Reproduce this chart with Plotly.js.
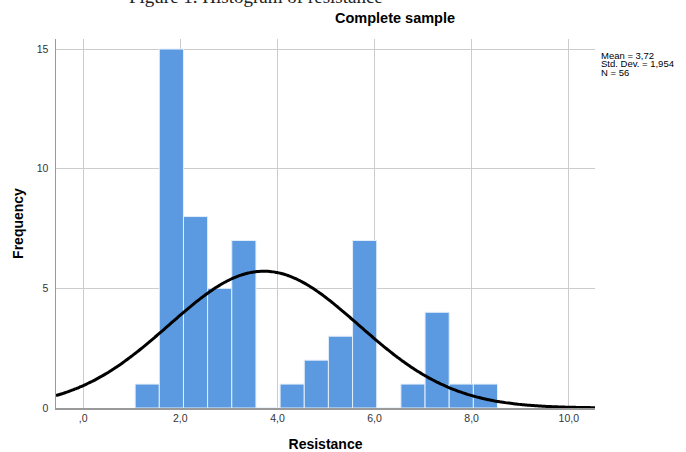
<!DOCTYPE html>
<html>
<head>
<meta charset="utf-8">
<script src="https://cdn.plot.ly/plotly-3.0.1.min.js"></script>
<style>html,body{margin:0;padding:0;background:#fff;}#chart{width:686px;height:452px;}</style>
</head>
<body>
<div id="chart"></div>
<script>
// ---- data ----
var binCounts = [1, 15, 8, 5, 7, 0, 1, 2, 3, 7, 0, 1, 4, 1, 1];
var binStart = 1.07;
var binWidth = 0.4975;
var sampleMean = 3.72;
var sampleSD = 1.954;
var sampleN = 56;
var statLines = ["Mean = 3,72", "Std. Dev. = 1,954", "N = 56"];
var xTickVals = [0, 2, 4, 6, 8, 10];
var xTickText = [",0", "2,0", "4,0", "6,0", "8,0", "10,0"];
var yTickVals = [0, 5, 10, 15];
var yTickText = ["0", "5", "10", "15"];
var xRange = [-0.56, 10.54];
var yRange = [0, 15.42];

// ---- derived ----
var barX = binCounts.map(function (c, i) { return binStart + binWidth * (i + 0.5); });

// fitted normal curve from the reported Mean / Std. Dev. / N
var curveX = [], curveY = [];
var nPts = 300;
for (var k = 0; k <= nPts; k++) {
  var xv = xRange[0] + (xRange[1] - xRange[0]) * k / nPts;
  var z = (xv - sampleMean) / sampleSD;
  curveX.push(xv);
  curveY.push(sampleN * 0.5 / (sampleSD * Math.sqrt(2 * Math.PI)) * Math.exp(-0.5 * z * z));
}

var traces = [
  {
    type: 'bar',
    x: barX,
    y: binCounts,
    width: binWidth,
    marker: { color: '#5b9ae0', line: { color: '#e4eefa', width: 1 } },
    hoverinfo: 'x+y'
  },
  {
    type: 'scatter',
    mode: 'lines',
    x: curveX,
    y: curveY,
    line: { color: '#000000', width: 3, shape: 'spline' },
    hoverinfo: 'skip'
  }
];

// plot area in px: left 56, right 595, top 39, bottom 408
function px2x(p) { return (p - 56) / 539; }
function px2y(p) { return (408 - p) / 369; }

var annotations = [
  {
    text: 'Figure 1. Histogram of resistance',
    xref: 'paper', yref: 'paper',
    x: px2x(127), y: px2y(9),
    xanchor: 'left', yanchor: 'bottom',
    showarrow: false,
    font: { family: 'Liberation Serif, Times New Roman, serif', size: 19, color: '#222222' }
  },
  {
    text: '<b>Complete sample</b>',
    xref: 'paper', yref: 'paper',
    x: px2x(395), y: px2y(18),
    xanchor: 'center', yanchor: 'middle',
    showarrow: false,
    font: { size: 14.5, color: '#000000' }
  }
];
var statY = [55, 63.5, 72];
statLines.forEach(function (s, i) {
  annotations.push({
    text: s,
    xref: 'paper', yref: 'paper',
    x: px2x(600), y: px2y(statY[i]),
    xanchor: 'left', yanchor: 'middle', align: 'left',
    showarrow: false, borderpad: 0,
    font: { size: 9.5, color: '#000000' }
  });
});

var layout = {
  width: 686,
  height: 452,
  margin: { l: 56, r: 91, t: 39, b: 44, pad: 0 },
  paper_bgcolor: '#ffffff',
  plot_bgcolor: '#ffffff',
  showlegend: false,
  bargap: 0,
  font: { family: 'Liberation Sans, Arial, sans-serif', color: '#333333', size: 11 },
  xaxis: {
    range: xRange,
    tickmode: 'array',
    tickvals: xTickVals,
    ticktext: xTickText,
    showgrid: true,
    gridcolor: '#cccccc',
    gridwidth: 1,
    zeroline: false,
    showline: true,
    linecolor: '#9a9a9a',
    linewidth: 1.5,
    ticks: '',
    ticklabelstandoff: 0,
    tickfont: { size: 10.5, color: '#333333' },
    title: { text: '<b>Resistance</b>', font: { size: 14, color: '#000000' }, standoff: 20 }
  },
  yaxis: {
    range: yRange,
    tickmode: 'array',
    tickvals: yTickVals,
    ticktext: yTickText,
    showgrid: true,
    gridcolor: '#cccccc',
    gridwidth: 1,
    zeroline: false,
    showline: true,
    linecolor: '#9a9a9a',
    linewidth: 1.5,
    ticks: '',
    ticklabelstandoff: 4,
    tickfont: { size: 10.5, color: '#333333' },
    title: { text: '<b>Frequency</b>', font: { size: 14, color: '#000000' }, standoff: 10 }
  },
  annotations: annotations
};

Plotly.newPlot('chart', traces, layout, { displayModeBar: false, staticPlot: true });
</script>
</body>
</html>
